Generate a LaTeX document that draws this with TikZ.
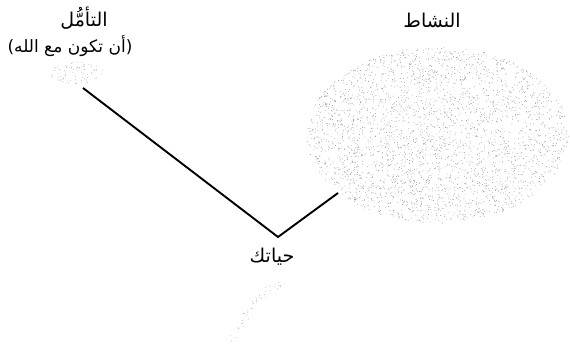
\documentclass[tikz,border=0pt]{standalone}
\usepackage{fontspec}
\newfontfamily\arabicfont[Script=Arabic]{DejaVu Sans}
\TeXXeTstate=1
\begin{document}
\begin{tikzpicture}[x=1pt,y=-1pt,
  lbl/.style={font=\arabicfont\fontsize{19}{22}\selectfont, inner sep=0pt},
  lbls/.style={font=\arabicfont\fontsize{17}{20}\selectfont, inner sep=0pt},
  link/.style={line width=1.9pt, black},
  dot/.style={fill=black!40}]
\useasboundingbox (0,0) rectangle (570,351);
\pgfmathsetseed{7}
% big blob
\foreach \i in {1,...,3200}{
  \pgfmathsetmacro\a{rnd*360}
  \pgfmathsetmacro\r{sqrt(rnd)}
  \fill[dot] ({438+131*\r*cos(\a)},{135+88*\r*sin(\a)}) circle[radius=0.45];
}
% small blob
\foreach \i in {1,...,80}{
  \pgfmathsetmacro\a{rnd*360}
  \pgfmathsetmacro\r{sqrt(rnd)}
  \fill[dot] ({77+27*\r*cos(\a)},{73+11*\r*sin(\a)}) circle[radius=0.4];
}
% trail
\foreach \i in {1,...,45}{
  \pgfmathsetmacro\t{rnd}
  \pgfmathsetmacro\dx{(rnd-0.5)*8}
  \pgfmathsetmacro\dy{(rnd-0.5)*8}
  \fill[dot] ({284-50*\t+\dx},{283+50*\t*\t+6*\t+\dy}) circle[radius=0.4];
}
\node[lbl] (tam) at (84,18) {\beginR التأمُّل\endR};
\node[lbls] (tam2) at (70,46) {\beginR (أن تكون مع الله)\endR};
\node[lbl] (act) at (432,20) {\beginR النشاط\endR};
\node[lbl] (life) at (272,257) {\beginR حياتك\endR};
\coordinate (p1) at (83,88);
\coordinate (p2) at (278,237);
\coordinate (p3) at (338,193);
\draw[link] (p1) -- (p2) -- (p3);
\end{tikzpicture}
\end{document}
